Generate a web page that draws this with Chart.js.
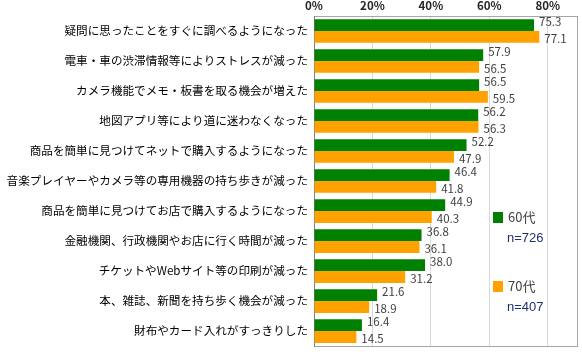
<!DOCTYPE html>
<html>
<head>
<meta charset="utf-8">
<script src="https://cdn.jsdelivr.net/npm/chart.js@4"></script>
<style>
  html, body { margin: 0; padding: 0; background: #fff; }
  canvas { display: block; }
</style>
</head>
<body>
<canvas id="chart" width="582" height="359"></canvas>
<script>
const categories = [
    '疑問に思ったことをすぐに調べるようになった',
    '電車・車の渋滞情報等によりストレスが減った',
    'カメラ機能でメモ・板書を取る機会が増えた',
    '地図アプリ等により道に迷わなくなった',
    '商品を簡単に見つけてネットで購入するようになった',
    '音楽プレイヤーやカメラ等の専用機器の持ち歩きが減った',
    '商品を簡単に見つけてお店で購入するようになった',
    '金融機関、行政機関やお店に行く時間が減った',
    'チケットやWebサイト等の印刷が減った',
    '本、雑誌、新聞を持ち歩く機会が減った',
    '財布やカード入れがすっきりした'
];
const values60 = [75.3, 57.9, 56.5, 56.2, 52.2, 46.4, 44.9, 36.8, 38.0, 21.6, 16.4];
const values70 = [77.1, 56.5, 59.5, 56.3, 47.9, 41.8, 40.3, 36.1, 31.2, 18.9, 14.5];
const seriesNames = ['60代', '70代'];
const sampleSizes = ['n=726', 'n=407'];
const xTicks = [0, 20, 40, 60, 80];

const JP = '"Noto Sans CJK JP", "Noto Sans", sans-serif';

// value labels just right of each bar
const valueLabels = {
    id: 'valueLabels',
    afterDatasetsDraw(chart) {
        const ctx = chart.ctx;
        ctx.save();
        ctx.font = '11.5px ' + JP;
        ctx.fillStyle = '#404040';
        ctx.textAlign = 'left';
        ctx.textBaseline = 'middle';
        chart.data.datasets.forEach((ds, di) => {
            chart.getDatasetMeta(di).data.forEach((bar, i) => {
                const dy = di === 0 ? -3 : 2;
                ctx.fillText(ds.data[i].toFixed(1), bar.x + 5, bar.y + dy);
            });
        });
        ctx.restore();
    }
};

// frame round the plot area
const frame = {
    id: 'frame',
    beforeDatasetsDraw(chart) {
        const { ctx, chartArea: a } = chart;
        ctx.save();
        ctx.lineWidth = 1;
        ctx.strokeStyle = '#a6a6a6';
        ctx.strokeRect(Math.round(a.left) + 0.5, Math.round(a.top) + 0.5,
            Math.round(a.right - a.left), Math.round(a.bottom - a.top));
        ctx.strokeStyle = '#7f7f7f';
        ctx.beginPath();
        ctx.moveTo(Math.round(a.left) + 0.5, Math.round(a.top));
        ctx.lineTo(Math.round(a.left) + 0.5, Math.round(a.bottom) + 1);
        ctx.stroke();
        ctx.restore();
    }
};

// legend box inside the plot, lower right
const sideLegend = {
    id: 'sideLegend',
    afterDraw(chart) {
        const ctx = chart.ctx;
        const spots = [212, 281];
        ctx.save();
        chart.data.datasets.forEach((ds, i) => {
            const top = spots[i];
            ctx.fillStyle = ds.backgroundColor;
            ctx.fillRect(493, top, 10, 11);
            ctx.textAlign = 'left';
            ctx.textBaseline = 'middle';
            ctx.fillStyle = '#404040';
            ctx.font = '13px ' + JP;
            ctx.fillText(ds.label, 508, top + 5.5);
            ctx.fillStyle = '#1f3070';
            ctx.font = '13px "Liberation Sans", Arial, sans-serif';
            ctx.fillText(sampleSizes[i], 507, top + 26.5);
        });
        ctx.restore();
    }
};

new Chart(document.getElementById('chart'), {
    type: 'bar',
    data: {
        labels: categories,
        datasets: [
            { label: seriesNames[0], data: values60, backgroundColor: '#008000' },
            { label: seriesNames[1], data: values70, backgroundColor: '#ffa200' }
        ]
    },
    options: {
        indexAxis: 'y',
        responsive: false,
        animation: false,
        devicePixelRatio: 1,
        layout: { padding: { left: 0, right: 5, top: 0, bottom: 10 } },
        datasets: { bar: { categoryPercentage: 0.79, barPercentage: 1 } },
        plugins: { legend: { display: false }, tooltip: { enabled: false } },
        scales: {
            x: {
                position: 'top',
                min: 0,
                max: 90,
                afterBuildTicks: s => { s.ticks = xTicks.map(v => ({ value: v })); },
                afterFit: s => { s.height = 16; },
                grid: {
                    drawTicks: false,
                    color: ctx => ctx.tick && ctx.tick.value === 0 ? 'rgba(0,0,0,0)' : '#d9d9d9'
                },
                border: { display: false },
                ticks: {
                    padding: 3,
                    color: '#262626',
                    font: { family: JP, size: 11.5, weight: '600' },
                    callback: v => v + '%'
                }
            },
            y: {
                afterFit: s => { s.width = 314; },
                grid: { display: false, drawTicks: false },
                border: { display: false },
                ticks: {
                    padding: 6,
                    color: '#000',
                    font: { family: JP, size: 11.6 }
                }
            }
        }
    },
    plugins: [frame, valueLabels, sideLegend]
});
</script>
</body>
</html>
